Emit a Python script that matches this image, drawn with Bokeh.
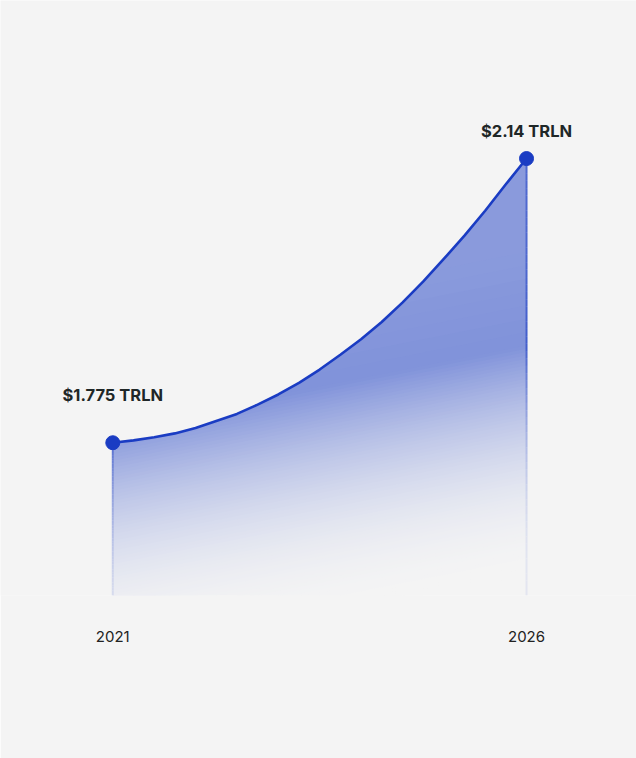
import numpy as np

from bokeh.core.properties import value
from bokeh.embed import file_html
from bokeh.models import ColumnDataSource, FixedTicker, PrintfTickFormatter, Range1d
from bokeh.plotting import figure
from bokeh.resources import INLINE

# market size, quarter-year steps (TRLN USD)
years = [2021.0, 2021.25, 2021.5, 2021.75, 2022.0, 2022.25, 2022.5, 2022.75,
         2023.0, 2023.25, 2023.5, 2023.75, 2024.0, 2024.25, 2024.5, 2024.75,
         2025.0, 2025.25, 2025.5, 2025.75, 2026.0]
market = [1.775, 1.778, 1.782, 1.787, 1.794, 1.803, 1.812, 1.824,
          1.837, 1.852, 1.869, 1.888, 1.908, 1.930, 1.955, 1.982,
          2.011, 2.041, 2.073, 2.107, 2.140]

label_years = [2021, 2026]
label_values = [1.775, 2.14]
label_texts = ["$1.775 TRLN", "$2.14 TRLN"]
tick_years = [2021, 2026]

BLUE = (26, 60, 195)
BG = (244, 244, 244)
MAX_ALPHA = 0.53


def mix(a):
    c = [round(bg + a * (b - bg)) for b, bg in zip(BLUE, BG)]
    return "#%02x%02x%02x" % tuple(c)


# gradient: strongest along a slightly tilted line, fading towards the bottom
tilt = 0.0211      # TRLN per year
u_full, u_zero = 1.900, 1.605


def strength(u):
    if u >= u_full:
        return 1.0 - 0.08 * min((u - u_full) / 0.12, 1.0)
    s = (u_full - u) / (u_full - u_zero)
    return max(1.0 - s, 0.0) ** 2


x = np.array(years)
curve = np.array(market)
base = 1.5788
shift = tilt * (2026 - x)

p = figure(width=636, height=758, output_backend="svg", toolbar_location=None,
           x_range=Range1d(2019.643, 2027.329), y_range=Range1d(base, 2.343),
           min_border_left=0, min_border_right=0, min_border_top=0, min_border_bottom=163)
p.background_fill_color = "#f4f4f4"
p.border_fill_color = "#f4f4f4"
p.outline_line_color = None
p.grid.visible = False
p.yaxis.visible = False

levels = list(np.linspace(u_zero, u_full, 70)) + list(np.linspace(u_full, 2.02, 8)[1:])
for i, u in enumerate(levels):
    nxt = levels[i + 1] if i + 1 < len(levels) else u + 0.02
    lower = np.clip(u - shift, base, curve)
    p.varea(x=x, y1=lower, y2=curve, fill_color=mix(MAX_ALPHA * strength((u + nxt) / 2)),
            fill_alpha=1.0)

# faded vertical edges
for xe, ve in zip(label_years, label_values):
    ys = np.linspace(base, ve, 60)
    y0, y1 = ys[:-1], ys[1:]
    cols = [mix(0.08 + 0.74 * strength((a + b) / 2 + tilt * (2026 - xe))) for a, b in zip(y0, y1)]
    p.segment(x0=[xe] * len(y0), y0=y0, x1=[xe] * len(y0), y1=y1, line_color=cols, line_width=2)

p.line(years, market, line_color="#1a3cc3", line_width=2.6, line_join="round")
p.scatter(label_years, label_values, size=14, color="#1a3cc3")

src = ColumnDataSource(dict(x=label_years, y=label_values, text=label_texts))
src.data["dy"] = [-48, -28]
p.text(x="x", y="y", text="text", y_offset="dy", source=src, text_align="center",
       text_baseline="middle", text_font=value("Inter"), text_font_style="bold",
       text_font_size="16.5px", text_color="#1f2727")

ax = p.xaxis[0]
ax.ticker = FixedTicker(ticks=tick_years)
ax.formatter = PrintfTickFormatter(format="%d")
ax.axis_line_color = None
ax.major_tick_line_color = None
ax.minor_tick_line_color = None
ax.major_label_standoff = 29
ax.major_label_text_font = "Inter"
ax.major_label_text_font_size = "15px"
ax.major_label_text_color = "#222222"

open("out.html", "w").write(file_html(p, INLINE))
